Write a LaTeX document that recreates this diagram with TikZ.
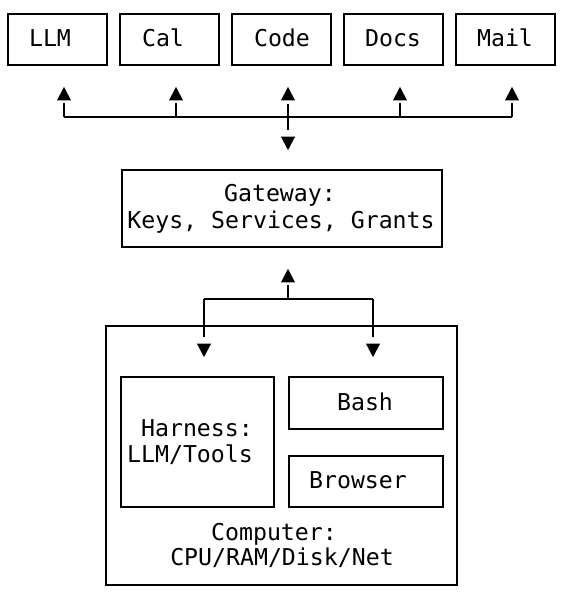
\documentclass[tikz,border=0pt]{standalone}
\usepackage{fontspec}
\setmonofont{DejaVu Sans Mono}
\usetikzlibrary{arrows.meta}
\tikzset{
  box/.style={draw=black, line width=1.2pt, rectangle, inner sep=0pt},
  txt/.style={inner sep=0pt, anchor=base, font=\ttfamily\fontsize{17.4pt}{20pt}\selectfont},
  conn/.style={draw=black, line width=1.2pt},
  tip/.tip={Triangle[length=10.125pt, width=10.25pt]},
  head/.style={conn, -tip},
}
\begin{document}
\begin{tikzpicture}[x=0.75pt, y=-0.75pt]
\useasboundingbox (0,0) rectangle (562,600);
% top boxes
\node[box, minimum width=74.25pt, minimum height=38.25pt] (llm) at (57.5,39.5) {};
\node[box, minimum width=74.25pt, minimum height=38.25pt] (cal) at (169.5,39.5) {};
\node[box, minimum width=74.25pt, minimum height=38.25pt] (code) at (281.5,39.5) {};
\node[box, minimum width=74.25pt, minimum height=38.25pt] (docs) at (393.5,39.5) {};
\node[box, minimum width=74.25pt, minimum height=38.25pt] (mail) at (505.5,39.5) {};
\node[txt] (tllm) at (50,46) {LLM};
\node[txt] (tcal) at (163,46) {Cal};
\node[txt] (tcode) at (282,46) {Code};
\node[txt] (tdocs) at (393,46) {Docs};
\node[txt] (tmail) at (505,46) {Mail};
% gateway
\node[box, minimum width=240pt, minimum height=57.75pt] (gateway) at (282,208.5) {};
\node[txt] (tg1) at (280,201) {Gateway:};
\node[txt] (tg2) at (281,228) {Keys, Services, Grants};
% computer
\node[box, minimum width=263.25pt, minimum height=194.25pt] (computer) at (281.5,455.5) {};
\node[box, minimum width=114.75pt, minimum height=97.5pt] (harness) at (197.5,442) {};
\node[box, minimum width=115.5pt, minimum height=39pt] (bash) at (366,403) {};
\node[box, minimum width=115.5pt, minimum height=38.25pt] (browser) at (366,481.5) {};
\node[txt] (th1) at (197,436) {Harness:};
\node[txt] (th2) at (190,462) {LLM/Tools};
\node[txt] (tbash) at (365,410) {Bash};
\node[txt] (tbrowser) at (358,488) {Browser};
\node[txt] (tc1) at (274,540) {Computer:};
\node[txt] (tc2) at (282,565) {CPU/RAM/Disk/Net};
% top bus
\coordinate (j1) at (64,117);
\coordinate (j2) at (176,117);
\coordinate (j3) at (288,117);
\coordinate (j4) at (400,117);
\coordinate (j5) at (512,117);
\draw[conn] (j1) -- (j5);
\foreach \j/\b in {j1/llm, j2/cal, j4/docs, j5/mail}{
  \draw[conn, shorten >=27.75pt] (\j) -- (\j |- \b.south);
  \draw[head, shorten >=15.75pt, shorten <=13.5pt] (\j) -- (\j |- \b.south);
}
% centre: up to Code, down to Gateway
\draw[conn, shorten <=28.5pt, shorten >=29.25pt] (j3 |- code.south) -- (j3 |- gateway.north);
\draw[head, shorten >=15.75pt, shorten <=13.5pt] (j3) -- (j3 |- code.south);
\draw[head, shorten >=14.25pt, shorten <=15.375pt] (j3) -- (j3 |- gateway.north);
% bottom bus
\coordinate (k) at (288,299);
\coordinate (k1) at (204,299);
\coordinate (k2) at (373,299);
\draw[conn] (k1) -- (k2);
\draw[conn, shorten >=27.75pt] (k) -- (k |- gateway.south);
\draw[head, shorten >=15.75pt, shorten <=13.5pt] (k) -- (k |- gateway.south);
\draw[conn, shorten >=29.25pt] (k1) -- (k1 |- harness.north);
\draw[head, shorten >=14.25pt, shorten <=34.5pt] (k1) -- (k1 |- harness.north);
\draw[conn, shorten >=29.25pt] (k2) -- (k2 |- bash.north);
\draw[head, shorten >=14.25pt, shorten <=34.5pt] (k2) -- (k2 |- bash.north);
\end{tikzpicture}
\end{document}
